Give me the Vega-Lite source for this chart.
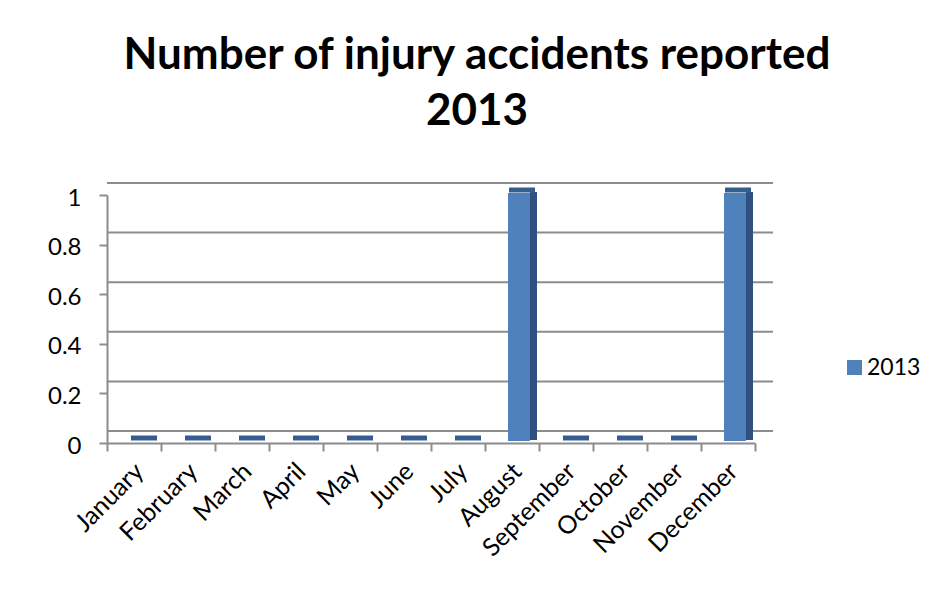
{
  "$schema": "https://vega.github.io/schema/vega-lite/v6.json",
  "width": 648,
  "height": 248,
  "autosize": {"type": "none"},
  "padding": {"left": 107, "top": 195, "right": 182, "bottom": 146},
  "background": "white",
  "title": {
    "text": ["Number of injury accidents reported", "2013"],
    "font": "Lato",
    "fontSize": 44,
    "fontWeight": "bold",
    "color": "#000000",
    "anchor": "middle",
    "dx": 46,
    "offset": 48,
    "lineHeight": 56
  },
  "datasets": {
    "accidents": [
      {"month": "January", "series": "2013", "count": 0},
      {"month": "February", "series": "2013", "count": 0},
      {"month": "March", "series": "2013", "count": 0},
      {"month": "April", "series": "2013", "count": 0},
      {"month": "May", "series": "2013", "count": 0},
      {"month": "June", "series": "2013", "count": 0},
      {"month": "July", "series": "2013", "count": 0},
      {"month": "August", "series": "2013", "count": 1},
      {"month": "September", "series": "2013", "count": 0},
      {"month": "October", "series": "2013", "count": 0},
      {"month": "November", "series": "2013", "count": 0},
      {"month": "December", "series": "2013", "count": 1}
    ],
    "grid": [
      {"g": 0}, {"g": 0.2}, {"g": 0.4}, {"g": 0.6}, {"g": 0.8}, {"g": 1}
    ]
  },
  "layer": [
    {
      "data": {"name": "grid"},
      "mark": {"type": "rule", "color": "#8c8c8c", "strokeWidth": 2, "xOffset": 18, "yOffset": -12},
      "encoding": {
        "y": {
          "field": "g",
          "type": "quantitative",
          "title": null,
          "scale": {"domain": [0, 1]},
          "axis": {
            "values": [0, 0.2, 0.4, 0.6, 0.8, 1],
            "format": ".1~f",
            "grid": false,
            "labelFont": "Lato",
            "labelFontSize": 24,
            "labelColor": "#000000",
            "labelPadding": 18,
            "labelOffset": 3,
            "domainColor": "#8c8c8c",
            "domainWidth": 2,
            "tickColor": "#8c8c8c",
            "tickWidth": 2,
            "tickSize": 8
          }
        }
      }
    },
    {
      "data": {"name": "accidents"},
      "mark": {"type": "bar", "color": "#2f5080", "width": 7, "xOffset": 21.5, "yOffset": -3},
      "encoding": {
        "x": {"field": "month", "type": "nominal", "sort": null},
        "y": {"field": "count", "type": "quantitative"}
      }
    },
    {
      "data": {"name": "accidents"},
      "mark": {"type": "bar", "width": 22, "xOffset": 7, "yOffset": -2},
      "encoding": {
        "x": {
          "field": "month",
          "type": "nominal",
          "sort": null,
          "title": null,
          "scale": {"paddingInner": 0, "paddingOuter": 0},
          "axis": {
            "labelAngle": -45,
            "labelAlign": "right",
            "labelBaseline": "middle",
            "labelFont": "Lato",
            "labelFontSize": 25,
            "labelColor": "#000000",
            "labelPadding": 16,
            "labelOffset": 5,
            "domainColor": "#8c8c8c",
            "domainWidth": 2,
            "tickColor": "#8c8c8c",
            "tickWidth": 2,
            "tickSize": 8,
            "tickBand": "extent"
          }
        },
        "y": {"field": "count", "type": "quantitative"},
        "color": {
          "field": "series",
          "type": "nominal",
          "scale": {"range": ["#4f81bd"]},
          "legend": {
            "title": null,
            "orient": "none",
            "legendX": 736,
            "legendY": 161,
            "symbolType": "square",
            "symbolSize": 225,
            "symbolStrokeWidth": 0,
            "symbolOpacity": 1,
            "labelFont": "Lato",
            "labelFontSize": 23,
            "labelColor": "#000000",
            "labelOffset": 1
          }
        }
      }
    },
    {
      "data": {"name": "accidents"},
      "mark": {"type": "tick", "color": "#365d8f", "opacity": 1, "thickness": 5, "size": 26, "xOffset": 10, "yOffset": -5},
      "encoding": {
        "x": {"field": "month", "type": "nominal", "sort": null},
        "y": {"field": "count", "type": "quantitative"}
      }
    }
  ],
  "config": {"view": {"stroke": null}}
}
